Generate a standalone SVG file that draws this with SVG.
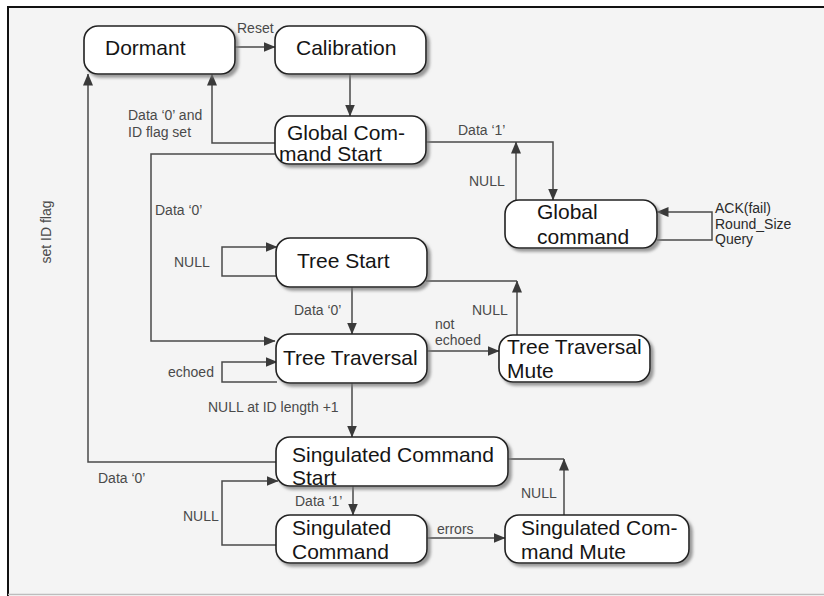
<svg xmlns="http://www.w3.org/2000/svg" width="824" height="596" viewBox="0 0 824 596">
  <defs>
    <filter id="shadow" x="-10%" y="-20%" width="130%" height="150%">
      <feDropShadow dx="3" dy="3" stdDeviation="1.6" flood-color="#7a7a7a" flood-opacity="0.75"/>
    </filter>
    <marker id="arrow" viewBox="0 0 12 10" refX="11.5" refY="5" markerWidth="12" markerHeight="10" markerUnits="userSpaceOnUse" orient="auto">
      <path d="M0,0 L12,5 L0,10 Z" fill="#3a3a3a"/>
    </marker>
  </defs>
  <style>
    .node rect { fill: #ffffff; stroke: #222222; stroke-width: 1.6; filter: url(#shadow); }
    .node text { font-family: "Liberation Sans", Arial, sans-serif; font-size: 21px; fill: #151515; }
    .edge { fill: none; stroke: #4a4a4a; stroke-width: 1.5; }
    .arr { marker-end: url(#arrow); }
    .lbl { font-family: "Liberation Sans", Arial, sans-serif; font-size: 14px; fill: #4a4a4a; }
    .lbl-dark { font-family: "Liberation Sans", Arial, sans-serif; font-size: 14px; fill: #2a2a2a; }
  </style>

  <!-- page and frame -->
  <rect x="0" y="0" width="824" height="596" fill="#ffffff"/>
  <rect x="8" y="7" width="816" height="587" fill="#f4f4f4"/>
  <line x1="8" y1="7" x2="824" y2="7" stroke="#111" stroke-width="2"/>
  <line x1="8" y1="6" x2="8" y2="596" stroke="#111" stroke-width="2"/>
  <line x1="8" y1="594.5" x2="824" y2="594.5" stroke="#bdbdbd" stroke-width="1.5"/>

  <!-- connectors -->
  <g id="connectors">
    <path class="edge arr" d="M235,47 H275"/>
    <path class="edge arr" d="M350,74 V116"/>
    <path class="edge arr" d="M276,143 H212 V74"/>
    <path class="edge arr" d="M276,154 H151 V341 H275"/>
    <path class="edge arr" d="M426,142 H553 V200"/>
    <path class="edge arr" d="M516,200 V142"/>
    <path class="edge arr" d="M657,240 H712 V212 H657"/>
    <path class="edge arr" d="M277,276 H222 V247 H277"/>
    <path class="edge arr" d="M352,287 V334"/>
    <path class="edge arr" d="M277,382 H222 V362 H277"/>
    <path class="edge arr" d="M427,351 H499"/>
    <path class="edge" d="M426,281 H517"/>
    <path class="edge arr" d="M517,335 V281"/>
    <path class="edge arr" d="M352,383 V437"/>
    <path class="edge arr" d="M276,462 H88 V74"/>
    <path class="edge arr" d="M277,545 H222 V481 H278"/>
    <path class="edge arr" d="M353,486 V515"/>
    <path class="edge arr" d="M427,538 H505"/>
    <path class="edge" d="M507,459 H564"/>
    <path class="edge arr" d="M564,515 V459"/>
  </g>

  <!-- connector labels -->
  <g id="labels">
    <text class="lbl" x="237" y="33">Reset</text>
    <text class="lbl" x="128" y="120">Data ‘0’ and</text>
    <text class="lbl" x="128" y="137">ID flag set</text>
    <text class="lbl" x="458" y="135">Data ‘1’</text>
    <text class="lbl" x="469" y="186">NULL</text>
    <text class="lbl" x="155" y="215">Data ‘0’</text>
    <text class="lbl-dark" x="715" y="213">ACK(fail)</text>
    <text class="lbl-dark" x="715" y="228.5">Round_Size</text>
    <text class="lbl-dark" x="715" y="244">Query</text>
    <text class="lbl" x="174" y="267">NULL</text>
    <text class="lbl" x="294" y="315">Data ‘0’</text>
    <text class="lbl" x="472" y="315">NULL</text>
    <text class="lbl" x="435" y="329">not</text>
    <text class="lbl" x="435" y="345">echoed</text>
    <text class="lbl" x="168" y="377">echoed</text>
    <text class="lbl" x="208" y="412">NULL at ID length +1</text>
    <text class="lbl" x="98" y="483">Data ‘0’</text>
    <text class="lbl" x="183" y="521">NULL</text>
    <text class="lbl" x="295" y="506">Data ‘1’</text>
    <text class="lbl" x="521" y="498">NULL</text>
    <text class="lbl" x="437" y="534">errors</text>
    <text class="lbl" transform="translate(51,232) rotate(-90)" text-anchor="middle">set ID flag</text>
  </g>

  <!-- states -->
  <g id="dormant" class="node">
    <rect x="84" y="26" width="151" height="48" rx="14"/>
    <text x="105" y="55">Dormant</text>
  </g>
  <g id="calibration" class="node">
    <rect x="275" y="26" width="151" height="48" rx="14"/>
    <text x="296" y="55">Calibration</text>
  </g>
  <g id="global-command-start" class="node">
    <rect x="275" y="116" width="151" height="48" rx="14"/>
    <text x="287" y="140">Global Com-</text>
    <text x="279" y="161">mand Start</text>
  </g>
  <g id="global-command" class="node">
    <rect x="505" y="200" width="152" height="48" rx="14"/>
    <text x="537" y="219">Global</text>
    <text x="537" y="244">command</text>
  </g>
  <g id="tree-start" class="node">
    <rect x="276" y="238" width="151" height="49" rx="14"/>
    <text x="297" y="268">Tree Start</text>
  </g>
  <g id="tree-traversal" class="node">
    <rect x="276" y="334" width="151" height="49" rx="14"/>
    <text x="283" y="365">Tree Traversal</text>
  </g>
  <g id="tree-traversal-mute" class="node">
    <rect x="499" y="335" width="151" height="47" rx="14"/>
    <text x="507" y="354">Tree Traversal</text>
    <text x="507" y="378">Mute</text>
  </g>
  <g id="singulated-command-start" class="node">
    <rect x="276" y="437" width="232" height="49" rx="14"/>
    <text x="292" y="462">Singulated Command</text>
    <text x="292" y="485">Start</text>
  </g>
  <g id="singulated-command" class="node">
    <rect x="276" y="515" width="151" height="48" rx="14"/>
    <text x="292" y="535">Singulated</text>
    <text x="292" y="559">Command</text>
  </g>
  <g id="singulated-command-mute" class="node">
    <rect x="505" y="515" width="184" height="48" rx="14"/>
    <text x="521" y="535">Singulated Com-</text>
    <text x="521" y="559">mand Mute</text>
  </g>
</svg>
